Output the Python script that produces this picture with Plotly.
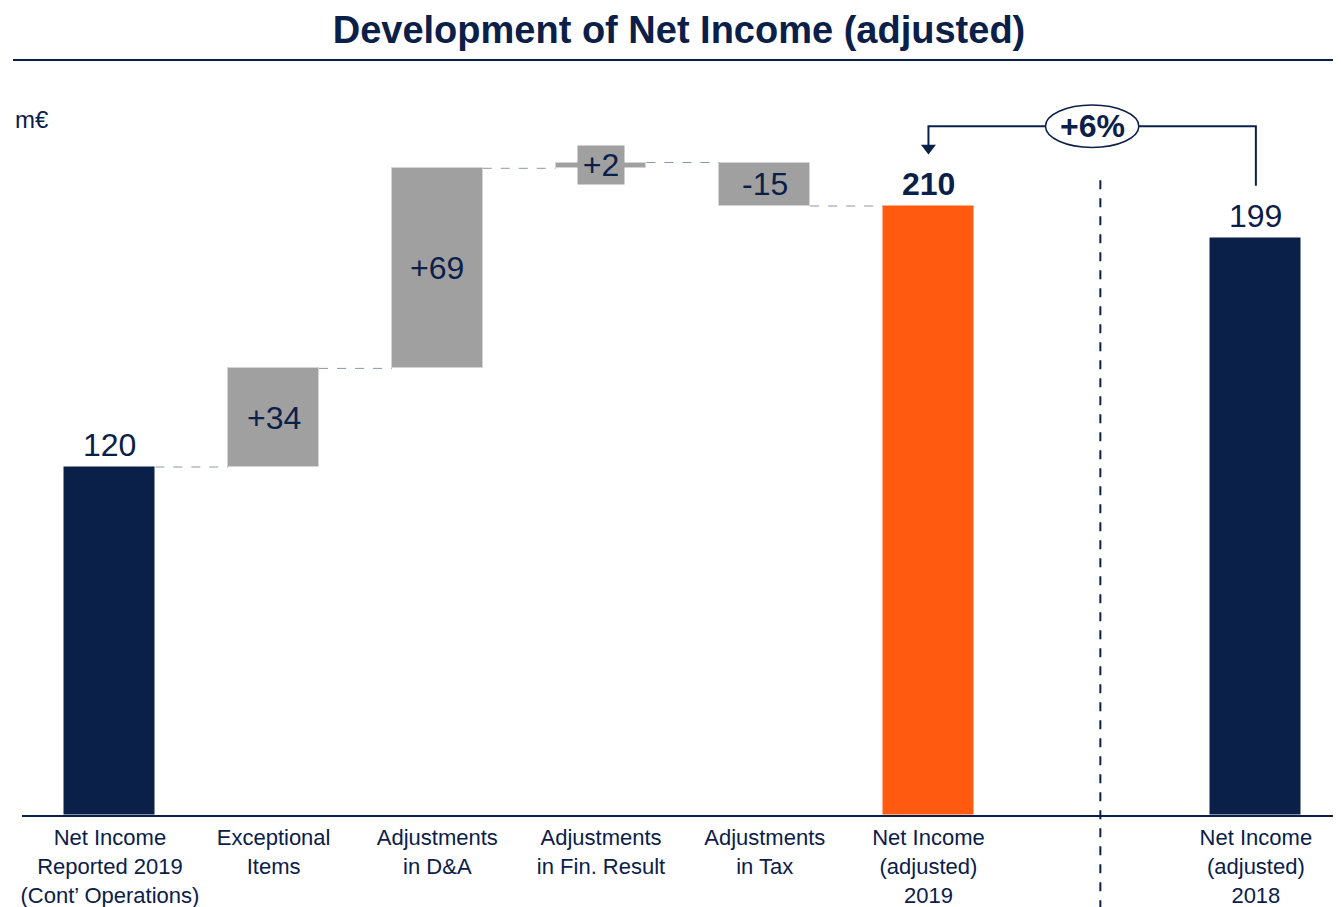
import plotly.graph_objects as go

# chart data
categories = ["Net Income<br>Reported 2019<br>(Cont’ Operations)", "Exceptional<br>Items",
              "Adjustments<br>in D&A", "Adjustments<br>in Fin. Result", "Adjustments<br>in Tax",
              "Net Income<br>(adjusted)<br>2019", "Net Income<br>(adjusted)<br>2018"]
values = [120, 34, 69, 2, -15, 210, 199]
measure = ["absolute", "relative", "relative", "relative", "relative", "total", "absolute"]
slots = [0, 1, 2, 3, 4, 5, 7]
growth_label = "+6%"
unit_label = "m€"
title = "Development of Net Income (adjusted)"

NAVY = "#0b2049"
ORANGE = "#ff5a10"
GREY = "#a0a0a1"
FONT = "Liberation Sans, Arial, sans-serif"
BAR_W = 0.555
hw = BAR_W / 2

# build waterfall bases
bases, heights, colors, levels = [], [], [], []
running = 0
for v, m in zip(values, measure):
    if m == "absolute":
        bases.append(0); heights.append(v); running = v
        colors.append(NAVY)
    elif m == "total":
        bases.append(0); heights.append(running)
        colors.append(ORANGE)
    else:
        bases.append(running if v > 0 else running + v)
        heights.append(abs(v))
        running += v
        colors.append(GREY)
    levels.append(running)

fig = go.Figure()
fig.add_trace(go.Bar(
    x=slots, y=heights, base=bases, width=BAR_W,
    marker=dict(color=colors, line=dict(color=["rgba(0,0,0,0)" if c != GREY else "#d4d4d4" for c in colors], width=1)),
    hoverinfo="skip", showlegend=False,
))

# connector lines between the 2019 bars
cx, cy = [], []
for i in range(5):
    cx += [slots[i] + hw, slots[i + 1] - hw, None]
    cy += [levels[i], levels[i], None]
fig.add_trace(go.Scatter(x=cx, y=cy, mode="lines", line=dict(color="#8c95ab", width=1, dash="dash"),
                         hoverinfo="skip", showlegend=False))

annotations = []
for s, v, m, b, h in zip(slots, values, measure, bases, heights):
    if m == "relative":
        if h < 8:
            annotations.append(dict(x=s, y=b + h / 2, text=f"{v:+d}", showarrow=False,
                                    font=dict(size=32, color=NAVY, family=FONT),
                                    bgcolor=GREY, width=46, height=38, borderpad=0))
        else:
            annotations.append(dict(x=s, y=b + h / 2, text=f"{v:+d}", showarrow=False,
                                    font=dict(size=32, color=NAVY, family=FONT)))
    else:
        txt = f"<b>{h}</b>" if m == "total" else f"{h}"
        annotations.append(dict(x=s, y=b + h, text=txt, showarrow=False, yanchor="bottom", yshift=2,
                                font=dict(size=32, color=NAVY, family=FONT)))

# growth bracket from 2018 to 2019 adjusted
y_top = max(values) + 27.5
x_now, x_prev = slots[5], slots[6]
mid = (x_now + x_prev) / 2
fig.add_trace(go.Scatter(
    x=[x_prev, x_prev, x_now, x_now], y=[values[6] + 18, y_top, y_top, max(values) + 21],
    mode="lines", line=dict(color=NAVY, width=2), hoverinfo="skip", showlegend=False))
fig.add_trace(go.Scatter(
    x=[x_now], y=[max(values) + 20], mode="markers",
    marker=dict(symbol="triangle-down", size=13, color=NAVY), hoverinfo="skip", showlegend=False))

shapes = [
    dict(type="circle", xref="x", yref="y", x0=mid - 0.285, x1=mid + 0.285, y0=y_top - 7.3, y1=y_top + 7.3,
         fillcolor="white", line=dict(color=NAVY, width=1.5)),
    dict(type="line", xref="x", yref="paper", x0=mid + 0.05, x1=mid + 0.05, y0=-0.13, y1=0.88,
         line=dict(color=NAVY, width=2, dash="dash")),
    dict(type="line", xref="paper", yref="paper", x0=-9 / 1319, x1=1.0, y0=1.0 + 30 / 725, y1=1.0 + 30 / 725,
         line=dict(color=NAVY, width=2)),
]
annotations.append(dict(x=mid, y=y_top, text=f"<b>{growth_label}</b>", showarrow=False,
                        font=dict(size=32, color=NAVY, family=FONT)))
annotations.append(dict(x=-9 / 1319, y=1.0 - 30 / 725, xref="paper", yref="paper", xanchor="left", yanchor="middle",
                        text=unit_label, showarrow=False, font=dict(size=24, color=NAVY, family=FONT)))

# the page body adds an 8 px margin, so the figure is 8 px smaller than the window
fig.update_layout(
    width=1333, height=899,
    margin=dict(l=14, r=0, t=82, b=92),
    title=dict(text=f"<b>{title}</b>", x=671 / 1333, xanchor="center", y=1 - 22 / 899, yanchor="middle",
               font=dict(size=38, color=NAVY, family=FONT)),
    plot_bgcolor="white", paper_bgcolor="white",
    xaxis=dict(tickmode="array", tickvals=slots, ticktext=categories, range=[-0.537, 7.52],
               showline=True, linecolor=NAVY, linewidth=2, showgrid=False, zeroline=False, ticks="",
               ticklabelstandoff=2,
               tickfont=dict(size=22, color=NAVY, family=FONT), fixedrange=True),
    yaxis=dict(range=[0, 250], visible=False, fixedrange=True),
    shapes=shapes, annotations=annotations,
    bargap=0, font=dict(family=FONT, color=NAVY),
)

fig.write_html("out.html")
